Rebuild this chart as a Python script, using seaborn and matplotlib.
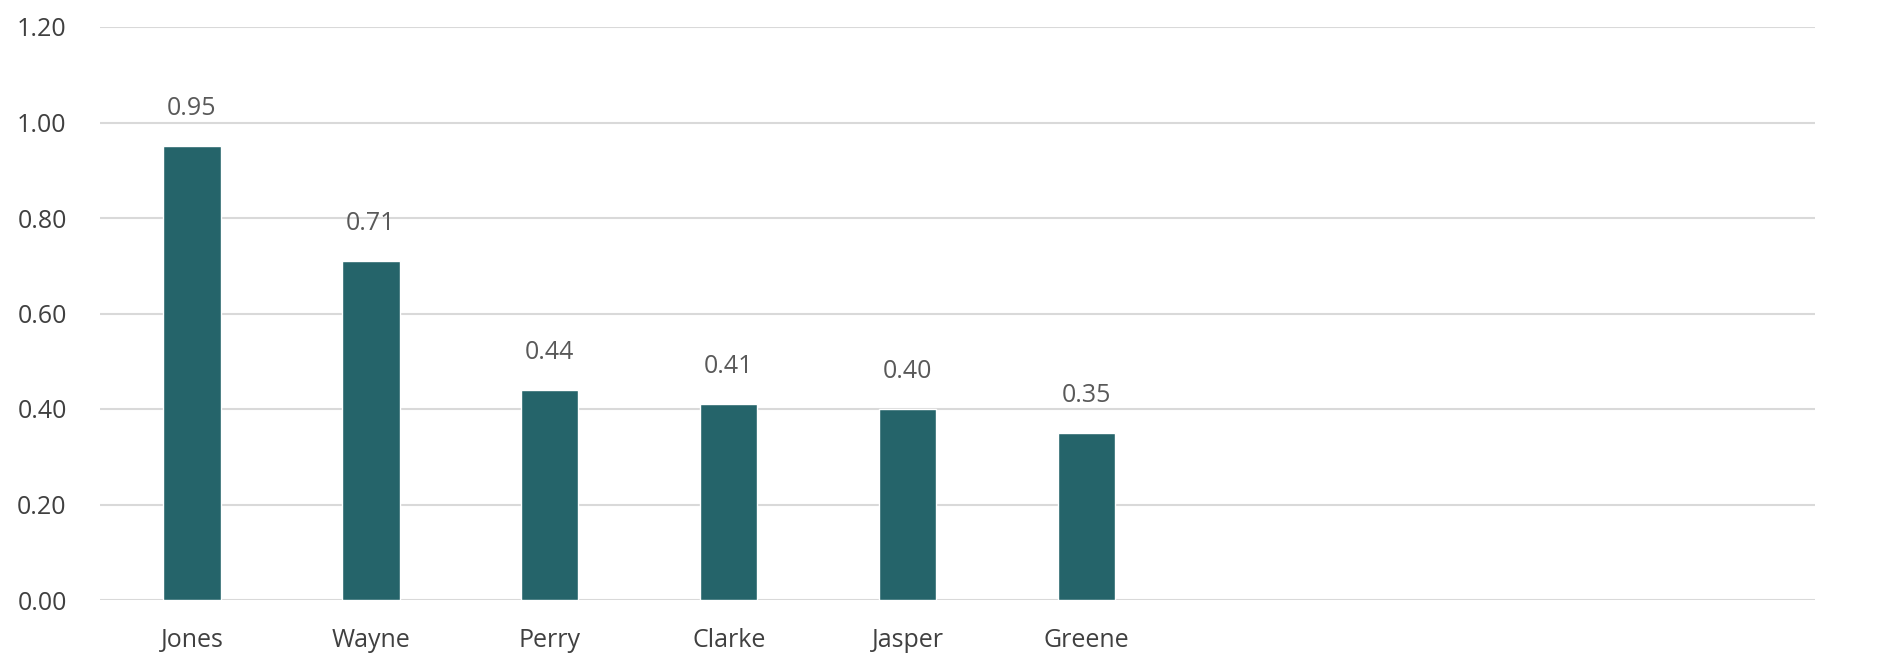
import matplotlib
matplotlib.use('Agg')
import matplotlib.pyplot as plt
import seaborn as sns
import pandas as pd

# values
names = ['Jones', 'Wayne', 'Perry', 'Clarke', 'Jasper', 'Greene']
values = [0.95, 0.71, 0.44, 0.41, 0.40, 0.35]
y_ticks = [0.0, 0.2, 0.4, 0.6, 0.8, 1.0, 1.2]

df = pd.DataFrame({'name': names, 'value': values})

sns.set_style('white')
plt.rcParams['font.family'] = ['Open Sans', 'DejaVu Sans']

fig = plt.figure(figsize=(19, 6.57), dpi=100)
ax = fig.add_axes([100 / 1900, 57 / 657, 1715 / 1900, 573 / 657])

sns.barplot(data=df, x='name', y='value', color='#25646A', width=0.32,
            saturation=1, ax=ax)

ax.set_ylim(0, 1.2)
ax.set_xlim(-0.514, 9.07)
ax.set_yticks(y_ticks)
ax.set_yticklabels(['{:.2f}'.format(t) for t in y_ticks])
ax.yaxis.grid(True, color='#D9D9D9', lw=1.5)
ax.set_axisbelow(True)
for s in ax.spines.values():
    s.set_visible(False)
ax.tick_params(axis='both', length=0, labelsize=18, labelcolor='#404040')
ax.tick_params(axis='y', pad=24)
ax.tick_params(axis='x', pad=20)
ax.set_xlabel('')
ax.set_ylabel('')

for i, v in enumerate(values):
    ax.annotate('{:.2f}'.format(v), (i, v), xytext=(0, 18),
                textcoords='offset points', ha='center', va='bottom',
                fontsize=18, color='#595959')

fig.savefig('out.png', dpi=100)
